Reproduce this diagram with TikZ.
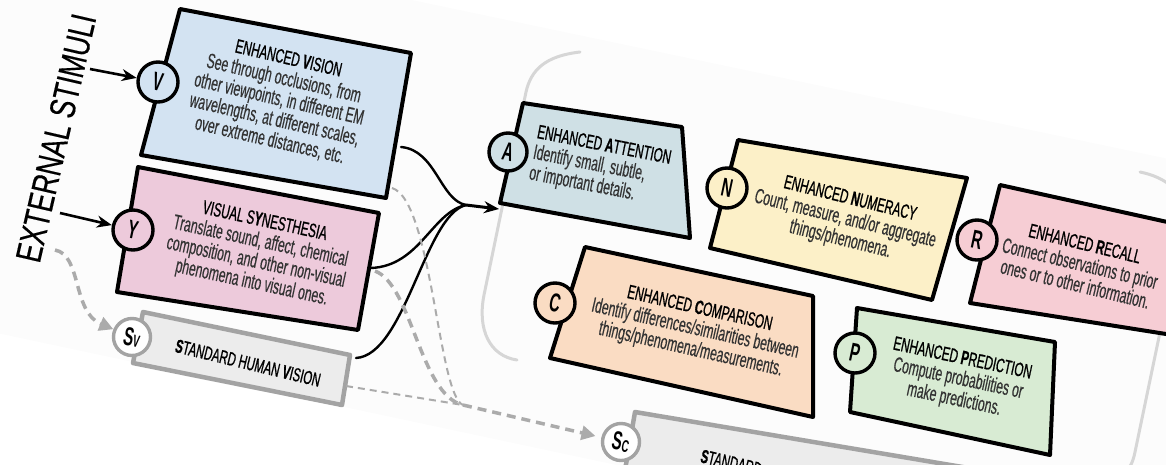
\documentclass[tikz,border=0pt]{standalone}
\usepackage{fontspec}
\setmainfont{Liberation Sans}[FakeStretch=0.58]
\newfontfamily\bodyfont{Liberation Sans}[FakeStretch=0.58, FakeBold=0.35]
\newfontfamily\titlefont{Liberation Sans}[FakeStretch=0.6, FakeBold=0.8]
\newfontfamily\extfont{Liberation Sans}[FakeStretch=0.74, FakeBold=0.3]
\usetikzlibrary{arrows.meta}
\definecolor{cV}{HTML}{D3E3F2}
\definecolor{cY}{HTML}{EDCADB}
\definecolor{cA}{HTML}{CFE0E5}
\definecolor{cN}{HTML}{FCF0C8}
\definecolor{cR}{HTML}{F6CDD4}
\definecolor{cC}{HTML}{FADCC3}
\definecolor{cP}{HTML}{D8EBD3}
\definecolor{cS}{HTML}{ECECEC}
\definecolor{sgray}{HTML}{A3A3A3}
\definecolor{dgray}{HTML}{ABABAB}
\definecolor{bgray}{HTML}{D6D6D6}
\definecolor{pagebg}{HTML}{FCFCFC}
\definecolor{bodytxt}{HTML}{333333}
\newcommand\boxtitle[1]{{\color{black}\titlefont\fontsize{19.5}{21}\selectfont #1}\\}
\tikzset{
  boxline/.style={draw=black, line width=4pt, line join=round},
  sline/.style={draw=sgray, line width=4.5pt, line join=round},
  letter/.style={circle, draw=black, line width=3.4pt, minimum size=40pt, inner sep=0pt,
    font=\bfseries\fontsize{26}{26}\selectfont, rotate=-12},
  sletter/.style={letter, draw=sgray, fill=white, minimum size=37pt},
  blurb/.style={align=center, text=bodytxt, font=\bodyfont\fontsize{21}{21}\selectfont, inner sep=0pt},
  inarrow/.style={-{Stealth[length=15pt,width=12pt]}, line width=2.6pt},
  feed/.style={line width=2.4pt, line cap=round},
  gdash/.style={draw=dgray, line width=3.5pt, dash pattern=on 9pt off 6pt},
  tdash/.style={draw=dgray, line width=2pt, dash pattern=on 7pt off 5pt},
  bracket/.style={draw=bgray, line width=3pt, line cap=round},
}
\begin{document}
\begin{tikzpicture}[x=1pt,y=-1pt]
\useasboundingbox (0,0) rectangle (1166,464);
\clip (0,0) rectangle (1166,464);
% faint rotated page
\fill[pagebg] (-50,-97) -- (1250,176) -- (1250,600) -- (-50,323) -- cycle;

% container brackets
\draw[bracket] (580,52) .. controls (545,56) and (531,70) .. (526,92) -- (484,295)
  .. controls (477,330) and (490,356) .. (517,360);
\draw[bracket] (1140,172) .. controls (1165,177) and (1188,192) .. (1183,222) -- (1135,452)
  .. controls (1133,462) and (1130,468) .. (1124,474);

% boxes
\filldraw[boxline, fill=cV] (180,9) -- (411,53) -- (386,198) -- (141,155) -- cycle;
\filldraw[boxline, fill=cY] (138,167) -- (379,213) -- (358,330) -- (117,292) -- cycle;
\filldraw[sline, fill=cS] (143,312) -- (350,355) -- (342,405) -- (133,363) -- cycle;
\filldraw[boxline, fill=cA] (523,103) -- (682,127) -- (690,238) -- (500,203) -- cycle;
\filldraw[boxline, fill=cN] (738,140) -- (967,178) -- (932,300) -- (710,248) -- cycle;
\filldraw[boxline, fill=cR] (1000,185) -- (1190,227) -- (1185,337) -- (970,303) -- cycle;
\filldraw[boxline, fill=cC] (585,247) -- (813,296) -- (813,417) -- (550,358) -- cycle;
\filldraw[boxline, fill=cP] (857,308) -- (1055,342) -- (1050,455) -- (850,412) -- cycle;
\filldraw[sline, fill=cS] (635,412) -- (1010,475) -- (1000,520) -- (625,470) -- cycle;

% letter circles
\node[letter, fill=cV] (V) at (158,82) {V};
\node[letter, fill=cY] (Y) at (133,230) {Y};
\node[sletter] (Sv) at (132,337) {S{\fontsize{17}{17}\selectfont V}};
\node[letter, fill=cA, minimum size=38pt] (A) at (508,152) {A};
\node[letter, fill=cN] (N) at (727,188) {N};
\node[letter, fill=cR] (R) at (977,240) {R};
\node[letter, fill=cC] (C) at (555,303) {C};
\node[letter, fill=cP] (P) at (855,353) {P};
\node[sletter] (Sc) at (621,442) {S{\fontsize{17}{17}\selectfont C}};

% texts
\node[rotate=77, font=\extfont\fontsize{36}{36}\selectfont] (ext) at (56,138) {EXTERNAL STIMULI};
\node[blurb, rotate=-13] (tV) at (279,100) {\boxtitle{ENHANCED \textbf{V}ISION}See through occlusions, from\\other viewpoints, in different EM\\wavelengths, at different scales,\\over extreme distances, etc.};
\node[blurb, rotate=-12.2] (tY) at (258,253) {\boxtitle{VISUAL S\textbf{Y}NESTHESIA}Translate sound, affect, chemical\\composition, and other non-visual\\phenomena into visual ones.};
\node[rotate=-13.6, font=\titlefont\fontsize{19}{20}\selectfont] (tSv) at (248,363) {\textbf{S}TANDARD HUMAN \textbf{V}ISION};
\node[blurb, align=left, rotate=-11] (tA) at (600,167) {\boxtitle{ENHANCED \textbf{A}TTENTION}Identify small, subtle,\\or important details.};
\node[blurb, rotate=-13.9] (tN) at (845,220) {\boxtitle{ENHANCED \textbf{N}UMERACY}Count, measure, and/or aggregate\\things/phenomena.};
\node[blurb, rotate=-13.6] (tR) at (1080,264) {\boxtitle{ENHANCED \textbf{R}ECALL}Connect observations to prior\\ones or to other information.};
\node[blurb, rotate=-12.7] (tC) at (695,330) {\boxtitle{ENHANCED \textbf{C}OMPARISON}Identify differences/similarities between\\things/phenomena/measurements.};
\node[blurb, rotate=-12] (tP) at (958,380) {\boxtitle{ENHANCED \textbf{P}REDICTION}Compute probabilities or\\make predictions.};
\node[rotate=-13, anchor=north west, font=\titlefont\fontsize{19}{20}\selectfont] (tSc) at (700,445) {\textbf{S}TANDARD};

% connector coordinates
\coordinate (eV) at (90,69);
\coordinate (eY) at (60,213);
\coordinate (eS) at (55,250);
\coordinate (vout) at (401,147);
\coordinate (yout) at (371,268);
\coordinate (svout) at (356,358);
\coordinate (m) at (466,205);
\coordinate (ain) at (499,209);
\coordinate (vd) at (392,188);
\coordinate (yd) at (375,271);
\coordinate (svd) at (346,386);
\coordinate (dm) at (463,405);

% external stimuli arrows
\draw[inarrow] (eV) -- (V);
\draw[inarrow] (eY) -- (Y);
\draw[gdash, -{Triangle[length=14pt,width=14pt]}, dgray] (eS) .. controls (82,255) and (72,312) .. (Sv);

% feeds into A
\draw[feed] (vout) .. controls (436,150) and (440,200) .. (m);
\draw[feed] (yout) .. controls (420,266) and (432,212) .. (m);
\draw[feed] (svout) .. controls (405,355) and (425,215) .. (m);
\draw[inarrow, line width=3pt] (m) -- (ain);

% dashed to standard cognition
\draw[tdash] (vd) .. controls (432,200) and (438,395) .. (dm);
\draw[gdash] (yd) .. controls (412,285) and (420,395) .. (dm);
\draw[tdash] (svd) -- (dm);
\draw[gdash, -{Triangle[length=14pt,width=14pt]}, dgray, shorten >=6pt] (dm) -- (Sc);
\end{tikzpicture}
\end{document}
